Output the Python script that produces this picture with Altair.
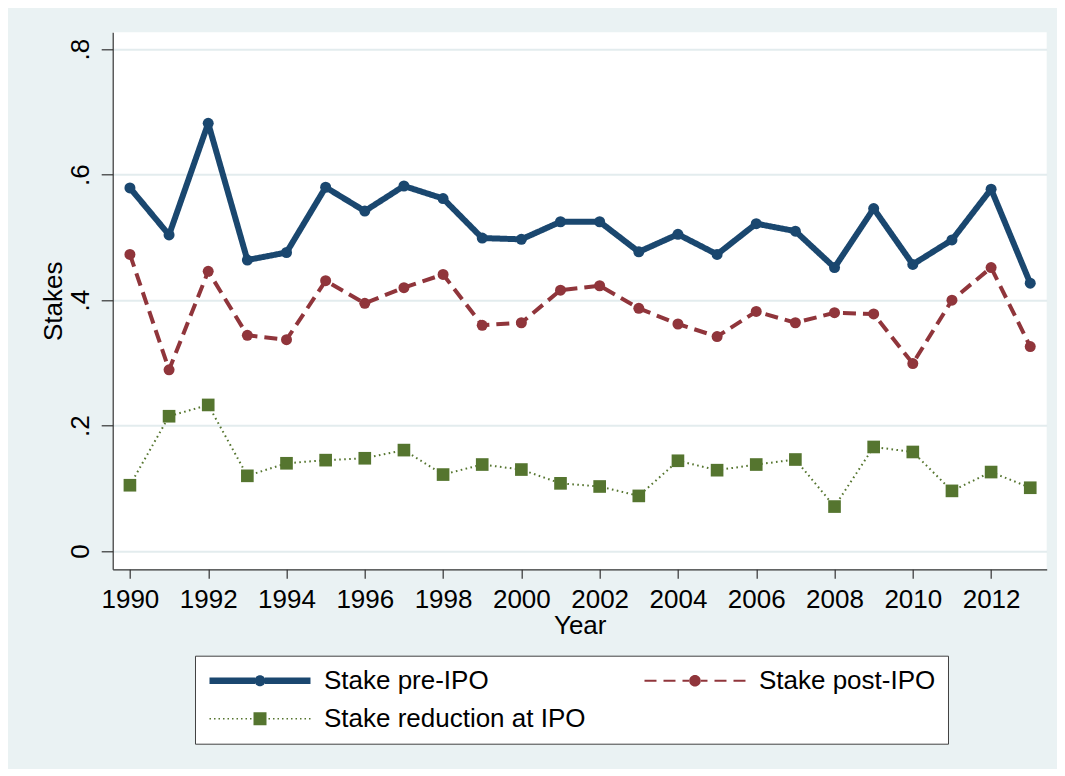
import altair as alt
import pandas as pd

# ---------------- data ----------------
YEARS = list(range(1990, 2014))
PRE_IPO = [0.579, 0.504, 0.682, 0.464, 0.476, 0.580, 0.542, 0.582, 0.562, 0.499, 0.497, 0.525,
           0.525, 0.477, 0.505, 0.473, 0.522, 0.510, 0.452, 0.546, 0.457, 0.496, 0.577, 0.427]
POST_IPO = [0.473, 0.289, 0.446, 0.344, 0.337, 0.431, 0.395, 0.420, 0.441, 0.360, 0.364, 0.416,
            0.423, 0.387, 0.362, 0.342, 0.382, 0.364, 0.380, 0.378, 0.299, 0.400, 0.452, 0.326]
REDUCTION = [0.105, 0.215, 0.233, 0.120, 0.140, 0.145, 0.148, 0.161, 0.122, 0.138, 0.130, 0.108,
             0.103, 0.088, 0.144, 0.129, 0.138, 0.146, 0.071, 0.166, 0.158, 0.096, 0.126, 0.101]
SERIES = ["Stake pre-IPO", "Stake post-IPO", "Stake reduction at IPO"]
X_TICKS = list(range(1990, 2013, 2))
Y_TICKS = [0, 0.2, 0.4, 0.6, 0.8]

# ---------------- styles ----------------
COLORS = ["#1a476f", "#90353b", "#55752f"]
FONT = "Liberation Sans"

rows = []
for name, vals in zip(SERIES, [PRE_IPO, POST_IPO, REDUCTION]):
    for yr, v in zip(YEARS, vals):
        rows.append({"Year": yr, "Stake": v, "series": name})
df = pd.DataFrame(rows)


# legend symbols: line + marker drawn as one custom path (no overlapping pieces)
def rect(x0, x1, h):
    return f"M{x0:.3f},{-h:.3f}L{x1:.3f},{-h:.3f}L{x1:.3f},{h:.3f}L{x0:.3f},{h:.3f}Z"


def circle(r):
    return f"M{-r},0A{r},{r},0,1,1,{r},0A{r},{r},0,1,1,{-r},0Z"


def pattern(start, end, on, off, h):
    segs = []
    x = start
    while x < end:
        segs.append((x, min(x + on, end)))
        x += on + off
    parts = [rect(a, b, h) for a, b in segs] + [rect(-b, -a, h) for a, b in segs]
    return "".join(parts)


HALF = 5.05
PATHS = [
    rect(-HALF, -0.5, 0.33) + rect(0.5, HALF, 0.33) + circle(0.55),
    pattern(-HALF, -0.6, 1.2, 0.7, 0.1) + circle(0.58),
    pattern(-HALF, -0.7, 0.15, 0.3, 0.075) + rect(-0.65, 0.65, 0.65),
]

x_enc = alt.X(
    "Year:Q",
    scale=alt.Scale(domain=[1989.56, 2013.42], nice=False, zero=False),
    axis=alt.Axis(values=X_TICKS, format="d", title="Year", grid=False,
                  tickSize=9, labelPadding=8, labelFlush=False, labelOverlap=False,
                  titleY=64, titleBaseline="alphabetic"),
)
y_enc = alt.Y(
    "Stake:Q",
    scale=alt.Scale(domain=[-0.029, 0.827], nice=False, zero=False),
    axis=alt.Axis(values=Y_TICKS, title="Stakes", grid=True,
                  labelExpr="datum.value == 0 ? '0' : slice(format(datum.value, '.1f'), 1)",
                  labelAngle=270, labelAlign="center", labelBaseline="alphabetic",
                  labelPadding=12.7, tickSize=11.5, labelFlush=False,
                  titleAngle=270, titleX=-51, titleY=268.5, titleAlign="center",
                  titleBaseline="alphabetic"),
)
color_scale = alt.Scale(domain=SERIES, range=COLORS)
color_nolegend = alt.Color("series:N", scale=color_scale, legend=None)

base = alt.Chart(df)

leg = alt.Legend(
    title=None, orient="none", legendX=82.3, legendY=623.4, columns=2, direction="horizontal",
    labelFont=FONT, labelFontSize=26, labelColor="black", labelLimit=600,
    symbolSize=400, symbolStrokeWidth=0, symbolStrokeColor="transparent",
    symbolOpacity=1, symbolOffset=40, labelOffset=51,
    padding=12, rowPadding=12, columnPadding=56,
    strokeColor="#404040", fillColor="white",
)

# invisible layer that only carries the legend
legend_layer = base.mark_point(filled=True, opacity=0, size=400, strokeWidth=0).encode(
    x=x_enc, y=y_enc,
    color=alt.Color("series:N", scale=color_scale, legend=leg),
    shape=alt.Shape("series:N", scale=alt.Scale(domain=SERIES, range=PATHS), legend=leg),
)

lines = base.mark_line(strokeJoin="round").encode(
    x=x_enc, y=y_enc, color=color_nolegend,
    strokeWidth=alt.StrokeWidth("series:N", scale=alt.Scale(domain=SERIES, range=[6, 2, 1.6]), legend=None),
    strokeDash=alt.StrokeDash("series:N", scale=alt.Scale(domain=SERIES, range=[[1, 0], [13, 7], [1.6, 3.4]]), legend=None),
)

circles = base.transform_filter(alt.datum.series != SERIES[2]).mark_point(
    shape="circle", filled=True, size=121, opacity=1
).encode(x=x_enc, y=y_enc, color=color_nolegend)

squares = base.transform_filter(alt.datum.series == SERIES[2]).mark_point(
    shape="square", filled=True, size=160, opacity=1
).encode(x=x_enc, y=y_enc, color=color_nolegend)

chart = alt.layer(legend_layer, lines, circles, squares).resolve_legend(
    color="independent", shape="independent", strokeDash="independent", strokeWidth="independent"
).properties(
    width=934, height=537,
    autosize=alt.AutoSizeParams(type="none"),
    padding={"left": 104.7, "top": 24.3, "right": 10, "bottom": 200},
    background="#eaf2f3",
).configure_view(
    stroke=None, fill="white"
).configure_axis(
    labelFont=FONT, titleFont=FONT, labelFontSize=26, titleFontSize=26,
    labelColor="black", titleColor="black", titleFontWeight="normal",
    domainColor="#333333", tickColor="#333333", domainWidth=1.2, tickWidth=1.2,
    gridColor="#e3ecee", gridWidth=2,
)

chart.save("out.html", embed_options={"renderer": "svg", "actions": False})
